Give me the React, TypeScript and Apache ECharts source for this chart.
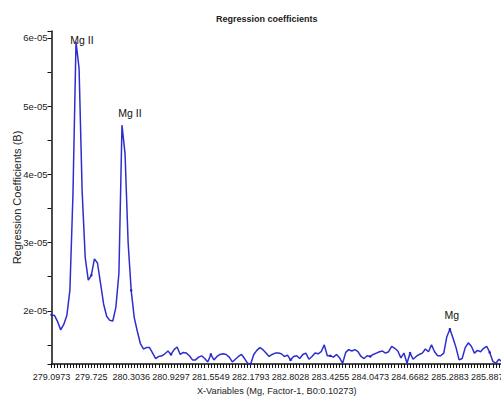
import React, { useEffect, useRef } from 'react';
import * as echarts from 'echarts';

const tickLabels = ['279.0973', '279.725', '280.3036', '280.9297', '281.5549', '282.1793', '282.8028', '283.4255', '284.0473', '284.6682', '285.2883', '285.8876'];
const POINTS_PER_LABEL = 13;

// Regression coefficients, in units of 1e-05
const coefficients = [
  1.94, 1.93, 1.84, 1.72, 1.80, 1.93, 2.30, 3.70, 5.94, 5.55,
  3.75, 2.78, 2.45, 2.52, 2.76, 2.70, 2.40, 2.10, 1.92, 1.86,
  1.85, 2.05, 2.55, 4.72, 4.30, 3.00, 2.30, 1.90, 1.70, 1.52,
  1.44, 1.46, 1.46, 1.38, 1.30, 1.33, 1.34, 1.37, 1.41, 1.36,
  1.43, 1.47, 1.36, 1.39, 1.38, 1.34, 1.28, 1.28, 1.32, 1.34,
  1.30, 1.25, 1.36, 1.28, 1.33, 1.36, 1.37, 1.36, 1.32, 1.25,
  1.29, 1.33, 1.36, 1.30, 1.23, 1.22, 1.36, 1.42, 1.46, 1.43,
  1.38, 1.33, 1.36, 1.38, 1.38, 1.37, 1.33, 1.35, 1.28, 1.33,
  1.34, 1.30, 1.36, 1.38, 1.29, 1.33, 1.38, 1.37, 1.40, 1.50,
  1.34, 1.34, 1.32, 1.36, 1.31, 1.23, 1.39, 1.43, 1.41, 1.43,
  1.40, 1.33, 1.30, 1.34, 1.33, 1.36, 1.38, 1.40, 1.41, 1.38,
  1.40, 1.48, 1.45, 1.41, 1.31, 1.38, 1.23, 1.38, 1.29, 1.33,
  1.36, 1.38, 1.44, 1.40, 1.50, 1.40, 1.34, 1.34, 1.38, 1.62,
  1.73, 1.60, 1.46, 1.28, 1.30, 1.46, 1.53, 1.48, 1.38, 1.42,
  1.40, 1.45, 1.48, 1.39, 1.26, 1.23, 1.29, 1.25,
];

const annotationIndex = [8, 23, 130];
const annotationText = ['Mg II', 'Mg II', 'Mg'];
const annotationOffset = [[6, 4], [8, -7], [2, -9]];

const FONT = "'Liberation Sans', Arial, Helvetica, sans-serif";

export default function App() {
  const ref = useRef<HTMLDivElement>(null);
  useEffect(() => {
    if (!ref.current) return;
    const chart = echarts.init(ref.current, null, { renderer: 'svg' });
    const categories = coefficients.map((_, i) => String(i));
    const values = coefficients.map((v) => v * 1e-5);
    chart.setOption({
      animation: false,
      backgroundColor: '#ffffff',
      title: {
        text: 'Regression coefficients',
        left: 211,
        top: 9,
        textStyle: { fontFamily: FONT, fontSize: 9, fontWeight: 'bold', color: '#222' },
      },
      grid: { left: 51.5, top: 31, right: -1, bottom: 34, containLabel: false, outerBoundsMode: 'none' },
      xAxis: {
        type: 'category',
        data: categories,
        boundaryGap: false,
        name: 'X-Variables (Mg, Factor-1, B0:0.10273)',
        nameLocation: 'middle',
        nameGap: 22,
        nameMoveOverlap: false,
        nameTextStyle: { fontFamily: FONT, fontSize: 9.2, color: '#222' },
        axisLine: { lineStyle: { color: '#111', width: 1.5 } },
        axisTick: { show: true, interval: 0, length: 4, lineStyle: { color: '#111', width: 1 } },
        axisLabel: {
          interval: POINTS_PER_LABEL - 1,
          margin: 8,
          fontFamily: FONT,
          fontSize: 9,
          color: '#222',
          hideOverlap: false,
          formatter: (_v: string, idx: number) => tickLabels[Math.round(idx / POINTS_PER_LABEL)] ?? '',
        },
        splitLine: { show: false },
      },
      yAxis: {
        type: 'value',
        min: 1.22e-5,
        max: 6.1e-5,
        splitNumber: 5,
        name: 'Regression Coefficients (B)',
        nameLocation: 'middle',
        nameGap: 29,
        nameMoveOverlap: false,
        nameTextStyle: { fontFamily: FONT, fontSize: 11, color: '#222' },
        axisLine: { show: true, lineStyle: { color: '#111', width: 1.5 } },
        axisTick: { show: true, length: 4, lineStyle: { color: '#111', width: 1 } },
        minorTick: { show: true, splitNumber: 2, length: 4, lineStyle: { color: '#111', width: 1 } },
        axisLabel: {
          showMinLabel: false,
          showMaxLabel: false,
          margin: 4,
          fontFamily: FONT,
          fontSize: 9.5,
          color: '#222',
          formatter: (v: number) => {
            const k = v * 1e5;
            if (Math.abs(k - Math.round(k)) > 0.01) return '';
            return Math.round(k) + 'e-05';
          },
        },
        splitLine: { show: false },
      },
      series: [
        {
          type: 'line',
          data: values,
          symbol: 'circle',
          symbolSize: 2.5,
          showSymbol: true,
          lineStyle: { color: '#2e2ecf', width: 1.5 },
          itemStyle: { color: '#2424b8' },
          markPoint: {
            symbol: 'circle',
            symbolSize: 0,
            data: annotationIndex.map((idx, k) => ({
              coord: [String(idx), values[idx]],
              label: {
                show: true,
                formatter: annotationText[k],
                position: 'top',
                distance: 0,
                offset: annotationOffset[k],
                fontFamily: FONT,
                fontSize: 10.5,
                color: '#111',
              },
            })),
          },
        },
      ],
    });
    return () => chart.dispose();
  }, []);
  return <div ref={ref} style={{ width: 501, height: 398, position: 'absolute', left: 0, top: 0 }} />;
}
